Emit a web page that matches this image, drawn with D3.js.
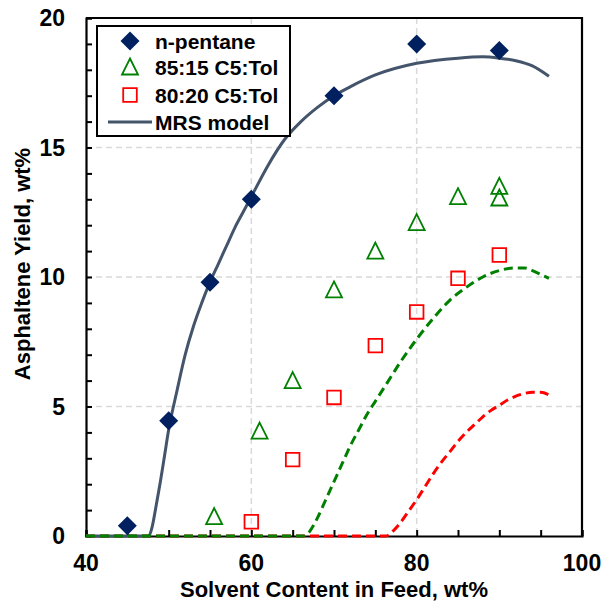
<!DOCTYPE html>
<html>
<head>
<meta charset="utf-8">
<script src="https://cdn.jsdelivr.net/npm/d3@7"></script>
<style>
  html, body { margin: 0; padding: 0; background: #fff; }
  svg { display: block; }
  text { font-family: "Liberation Sans", Arial, sans-serif; font-weight: bold; fill: #000; }
</style>
</head>
<body>
<svg id="chart" width="603" height="602"></svg>
<script>
// Measured asphaltene yields (solvent content wt%, yield wt%)
const pentane = [[45, 0.4], [50, 4.45], [55, 9.8], [60, 13.0], [70, 17.0], [80, 19.0], [90, 18.75]];
const blend8515 = [[55.5, 0.75], [61, 4.05], [65, 6.0], [70, 9.5], [75, 11.0], [80, 12.1], [85, 13.1], [90, 13.5], [90, 13.05]];
const blend8020 = [[60, 0.55], [65, 2.95], [70, 5.35], [75, 7.35], [80, 8.65], [85, 9.95], [90, 10.85]];

// MRS model predictions
const modelPentane = [[40, 0], [47.6, 0], [48, 0.35], [48.5, 1.2], [49, 2.1], [49.5, 3.1], [50, 4.1], [51, 5.6],
  [52, 7.0], [53, 8.1], [54, 9.0], [55, 9.8], [56, 10.5], [57, 11.2], [58, 11.9], [59, 12.5], [60, 13.1],
  [62, 14.3], [64, 15.3], [66, 16.0], [68, 16.55], [70, 17.0], [72, 17.35], [75, 17.8], [80, 18.25],
  [85, 18.45], [88, 18.5], [90, 18.45], [92, 18.35], [94, 18.15], [96, 17.75]];
const model8515 = [[40, 0], [66.3, 0], [67, 0.15], [67.5, 0.4], [68, 0.7], [69, 1.4], [70, 2.1], [71, 2.8],
  [72, 3.5], [73, 4.1], [74, 4.7], [75, 5.2], [76, 5.7], [77, 6.2], [78, 6.7], [80, 7.6], [82, 8.4],
  [84, 9.1], [86, 9.6], [88, 10.0], [90, 10.25], [92, 10.35], [93, 10.35], [94, 10.25], [95, 10.1], [96, 9.95]];
const model8020 = [[40, 0], [76.3, 0], [77, 0.15], [78, 0.5], [79, 0.95], [80, 1.4], [81, 1.9], [82, 2.4],
  [83, 2.85], [84, 3.25], [85, 3.65], [86, 4.0], [87, 4.3], [88, 4.6], [89, 4.85], [90, 5.05], [91, 5.25],
  [92, 5.4], [93, 5.5], [94, 5.55], [95, 5.55], [96, 5.45]];

const xTicks = [40, 60, 80, 100];
const yTicks = [0, 5, 10, 15, 20];
const legendLabels = ["n-pentane", "85:15 C5:Tol", "80:20 C5:Tol", "MRS model"];

const NAVY = "#002060", GREEN = "#008000", RED = "#FF0000", SLATE = "#44546A";

const svg = d3.select("#chart");
const m = { left: 86, top: 18, right: 21, bottom: 66 };
const W = 603 - m.left - m.right, H = 602 - m.top - m.bottom;
const g = svg.append("g").attr("transform", `translate(${m.left},${m.top})`);

const x = d3.scaleLinear().domain([40, 100]).range([0, W]);
const y = d3.scaleLinear().domain([0, 20]).range([H, 0]);

// grid
g.append("g").selectAll("line").data([60, 80]).join("line")
  .attr("x1", d => x(d)).attr("x2", d => x(d)).attr("y1", 0).attr("y2", H)
  .attr("stroke", "#D9D9D9").attr("stroke-width", 1.5).attr("stroke-dasharray", "6,4");
g.append("g").selectAll("line").data([5, 10, 15]).join("line")
  .attr("y1", d => y(d)).attr("y2", d => y(d)).attr("x1", 0).attr("x2", W)
  .attr("stroke", "#D9D9D9").attr("stroke-width", 1.5).attr("stroke-dasharray", "6,4");

// axes with inward ticks
const xAxis = d3.axisBottom(x).tickValues(d3.range(40, 101, 5)).tickSize(-6).tickFormat("");
const yAxis = d3.axisLeft(y).tickValues(d3.range(0, 21, 1)).tickSize(-6).tickFormat("");
const gx = g.append("g").attr("transform", `translate(0,${H})`).call(xAxis);
const gy = g.append("g").call(yAxis);
[gx, gy].forEach(a => {
  a.select(".domain").attr("stroke", "#000").attr("stroke-width", 2.2);
  a.selectAll(".tick line").attr("stroke", "#000").attr("stroke-width", 2);
});
// top and right frame
g.append("path").attr("d", `M0,0H${W}V${H}`).attr("fill", "none").attr("stroke", "#000").attr("stroke-width", 2.2);

// tick labels
g.append("g").selectAll("text").data(xTicks).join("text")
  .attr("x", d => x(d)).attr("y", H + 35).attr("text-anchor", "middle")
  .style("font-size", "23px").text(d => d);
g.append("g").selectAll("text").data(yTicks).join("text")
  .attr("x", -21).attr("y", d => y(d) + 8.2).attr("text-anchor", "end")
  .style("font-size", "23px").text(d => d);

// axis titles
g.append("text").attr("x", W / 2).attr("y", H + 61).attr("text-anchor", "middle")
  .style("font-size", "22px").text("Solvent Content in Feed, wt%");
g.append("text").attr("transform", `translate(${-56},${H / 2 - 13}) rotate(-90)`).attr("text-anchor", "middle")
  .style("font-size", "22px").text("Asphaltene Yield, wt%");

// model curves
const line = d3.line().x(d => x(d[0])).y(d => y(d[1])).curve(d3.curveMonotoneX);
g.append("path").datum(model8020).attr("d", line).attr("fill", "none")
  .attr("stroke", RED).attr("stroke-width", 3).attr("stroke-dasharray", "9,5");
g.append("path").datum(modelPentane).attr("d", line).attr("fill", "none")
  .attr("stroke", SLATE).attr("stroke-width", 3);
g.append("path").datum(model8515).attr("d", line).attr("fill", "none")
  .attr("stroke", GREEN).attr("stroke-width", 3).attr("stroke-dasharray", "9,5");

// marker shapes
function diamond(sel) { sel.attr("d", "M0,-9.5L9.5,0L0,9.5L-9.5,0Z").attr("fill", NAVY); }
function triangle(sel) { sel.attr("d", "M0,-8.5L8,7.5L-8,7.5Z").attr("fill", "none").attr("stroke", GREEN).attr("stroke-width", 1.8); }
function square(sel) { sel.attr("d", "M-6.8,-6.8H6.8V6.8H-6.8Z").attr("fill", "none").attr("stroke", RED).attr("stroke-width", 1.8); }

g.append("g").selectAll("path").data(blend8515).join("path")
  .attr("transform", d => `translate(${x(d[0])},${y(d[1])})`).call(triangle);
g.append("g").selectAll("path").data(blend8020).join("path")
  .attr("transform", d => `translate(${x(d[0])},${y(d[1])})`).call(square);
g.append("g").selectAll("path").data(pentane).join("path")
  .attr("transform", d => `translate(${x(d[0])},${y(d[1])})`).call(diamond);

// legend
const lg = svg.append("g").attr("transform", "translate(97,26)");
lg.append("rect").attr("width", 193).attr("height", 110).attr("fill", "#fff")
  .attr("stroke", "#000").attr("stroke-width", 2);
const rowY = [15, 41, 69, 96];
lg.selectAll("text").data(legendLabels).join("text")
  .attr("x", 58).attr("y", (d, i) => rowY[i] + 7.5).style("font-size", "21px").text(d => d);
lg.append("path").attr("transform", `translate(33,${rowY[0]})`).call(diamond);
lg.append("path").attr("transform", `translate(33,${rowY[1]})`).call(triangle);
lg.append("path").attr("transform", `translate(33,${rowY[2]})`).call(square);
lg.append("line").attr("x1", 11).attr("x2", 55).attr("y1", rowY[3]).attr("y2", rowY[3])
  .attr("stroke", SLATE).attr("stroke-width", 3);
</script>
</body>
</html>
